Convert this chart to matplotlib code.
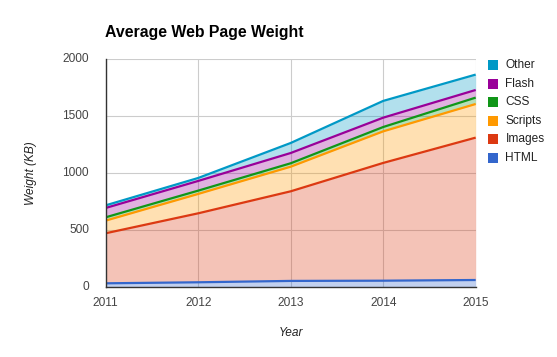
import numpy as np
import matplotlib.pyplot as plt
from matplotlib.patches import Rectangle

plt.rcParams['font.family'] = ['Liberation Sans', 'DejaVu Sans']

years = [2011, 2012, 2013, 2014, 2015]
series = ['HTML', 'Images', 'Scripts', 'CSS', 'Flash', 'Other']
html = [35, 44, 56, 58, 64]
images = [439, 605, 786, 1033, 1249]
scripts = [111, 170, 216, 277, 295]
css = [29, 29, 30, 38, 56]
flash = [82, 85, 90, 82, 67]
other = [23, 26, 88, 147, 135]
colors = ['#3366cc', '#dc3912', '#ff9900', '#109618', '#990099', '#0099c6']

W, H = 557, 357
fig = plt.figure(figsize=(W / 100, H / 100), dpi=100)
ax = fig.add_axes([105.7 / W, 1 - 287.3 / H, 370 / W, 228 / H])

data = [html, images, scripts, css, flash, other]
base = np.zeros(len(years))
for vals, c in zip(data, colors):
    top = base + np.array(vals)
    ax.fill_between(years, base, top, color=c, alpha=0.3, linewidth=0, zorder=2)
    ax.plot(years, top, color=c, lw=1.6, zorder=3, solid_capstyle='butt')
    base = top

ax.set_xlim(2011, 2015)
ax.set_ylim(0, 2000)
ax.set_xticks(years)
ax.set_yticks([0, 500, 1000, 1500, 2000])
ax.grid(True, color='#cccccc', lw=0.8, zorder=1)
for s in ['top', 'right']:
    ax.spines[s].set_visible(False)
for s in ['left', 'bottom']:
    ax.spines[s].set_color('#333333')
    ax.spines[s].set_linewidth(1)
    ax.spines[s].set_zorder(4)
ax.tick_params(length=0, labelsize=8.6, colors='#444444')
ax.tick_params(axis='x', pad=7)
ax.tick_params(axis='y', pad=12)
for lab in ax.get_yticklabels():
    lab.set_verticalalignment('center')

fig.text(105 / W, 1 - 33 / H, 'Average Web Page Weight', fontsize=11.4,
         fontweight='bold', va='center', ha='left', color='black')
fig.text(290.7 / W, 1 - 333 / H, 'Year', fontsize=8.6, style='italic',
         ha='center', va='center', color='#222222')
fig.text(31 / W, 1 - 173.3 / H, 'Weight (KB)', fontsize=8.6, style='italic',
         rotation=90, ha='center', va='center', color='#222222')

# legend, top entry is the last series
for i, (name, c) in enumerate(zip(series[::-1], colors[::-1])):
    yc = 65 + i * 18.6
    fig.add_artist(Rectangle((488 / W, 1 - (yc + 5) / H), 10 / W, 10 / H,
                             transform=fig.transFigure, color=c, lw=0))
    fig.text(505.5 / W, 1 - yc / H, name, fontsize=8.6, va='center',
             ha='left', color='#222222')

fig.savefig('out.png', dpi=100)
